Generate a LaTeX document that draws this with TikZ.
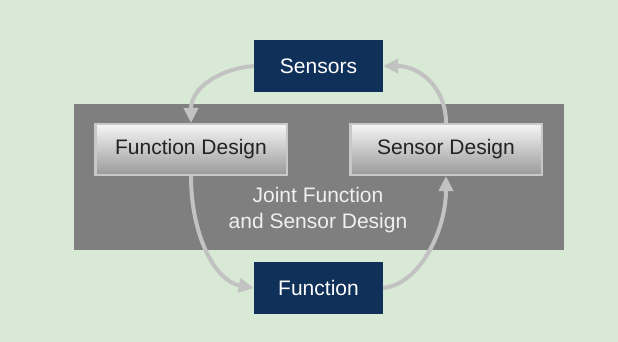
\documentclass[tikz,border=0pt]{standalone}
\usepackage{fontspec}
\setmainfont{Liberation Sans}
\usetikzlibrary{arrows.meta}
\definecolor{bgcol}{HTML}{D8E9D5}
\definecolor{panelcol}{HTML}{7F7F7F}
\definecolor{navy}{HTML}{0F3058}
\definecolor{flow}{HTML}{C2C2C2}
\definecolor{rim}{HTML}{C8C8C8}
\definecolor{inktext}{HTML}{222222}
\definecolor{shadetop}{HTML}{F4F5F4}
\definecolor{shademid}{HTML}{D6D6D6}
\definecolor{shadebot}{HTML}{9A9A9A}
\begin{document}
\begin{tikzpicture}[x=1pt,y=-1pt,
  font=\fontsize{21}{26}\selectfont,
  navybox/.style={fill=navy,text=white,minimum width=129pt,minimum height=52pt,inner sep=0pt},
  designbox/.style={draw=rim,line width=2.5pt,top color=shadetop,middle color=shademid,bottom color=shadebot,
    minimum width=191.5pt,minimum height=50.5pt,inner sep=0pt,text=inktext},
  flowarrow/.style={draw=flow,line width=4pt,-{Triangle[length=15pt,width=14pt]}}]
  % canvas and the shared design panel
  \fill[bgcol] (0,0) rectangle (618,342);
  \useasboundingbox (0,0) rectangle (618,342);
  \fill[panelcol] (74,104) rectangle (564,250);

  % boxes
  \node[navybox] (sens) at (318.5,66) {Sensors};
  \node[navybox] (func) at (318.5,288) {Function};
  \node[designbox] (fd) at (191,149.5) {Function Design};
  \node[designbox] (sd) at (446,149.5) {Sensor Design};
  \node[text=white!94!black,align=center] (joint) at (318,210) {Joint Function\\and Sensor Design};

  % the design loop
  \draw[flowarrow] (sens.west) .. controls +(-35,3) and +(0,-35) .. (fd.north);
  \draw[flowarrow] (fd.south) .. controls +(0,59) and +(-39,-7) .. (func.west);
  \draw[flowarrow] (func.east) .. controls +(37,-4) and +(0,54) .. (sd.south);
  \draw[flowarrow] (sd.north) .. controls +(0,-35) and +(37,0) .. (sens.east);
\end{tikzpicture}
\end{document}
